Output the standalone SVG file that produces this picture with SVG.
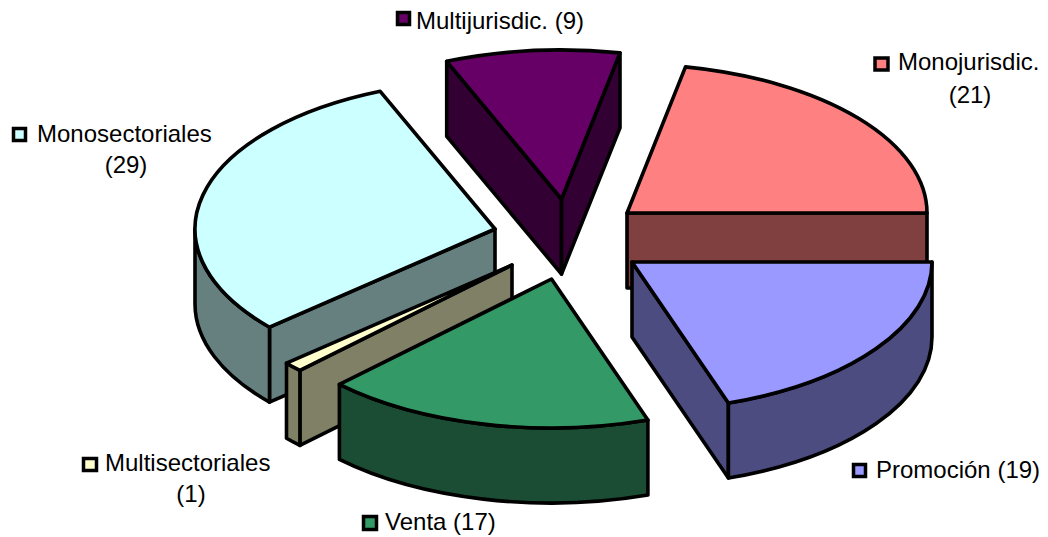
<svg xmlns="http://www.w3.org/2000/svg" width="1048" height="537" viewBox="0 0 1048 537">
<style>
.e{stroke:#000;stroke-width:3.6;stroke-linejoin:round}
.t{font-family:"Liberation Sans",Arial,sans-serif;font-size:24px;fill:#000}
.c{text-anchor:middle}
.k{stroke:#000;stroke-width:3.5}
</style>
<rect width="1048" height="537" fill="#fff"/>
<g id="slice-multijurisdic">
<path class="e" fill="#330033" d="M561.5 199 L446.7 61.3 L446.7 136.3 L561.5 274 Z"/>
<path class="e" fill="#330033" d="M561.5 199 L620 52.9 L620 127.9 L561.5 274 Z"/>
<path class="e" fill="#660066" d="M561.5 199 L446.7 61.3 A300 149 0 0 1 620 52.9 Z"/>
</g>
<g id="slice-monojurisdic">
<path class="e" fill="#804040" d="M627 213 L927 213 L927 288 L627 288 Z"/>
<path class="e" fill="#FF8080" d="M627 213 L685.5 66.9 A300 149 0 0 1 927 213 Z"/>
</g>
<g id="slice-monosectoriales">
<path class="e" fill="#668080" d="M495 229 L269.5 327.2 L269.5 402.2 L495 304 Z"/>
<path class="e" fill="#668080" d="M269.5 327.2 A300 149 0 0 1 195 229 L195 304 A300 149 0 0 0 269.5 402.2 Z"/>
<path class="e" fill="#CCFFFF" d="M495 229 L269.5 327.2 A300 149 0 0 1 380.2 91.3 Z"/>
</g>
<g id="slice-multisectoriales">
<path class="e" fill="#808066" d="M512 265 L299.9 370.4 L299.9 445.4 L512 340 Z"/>
<path class="e" fill="#808066" d="M299.9 370.4 A300 149 0 0 1 286.5 363.2 L286.5 438.2 A300 149 0 0 0 299.9 445.4 Z"/>
<path class="e" fill="#FFFFCC" d="M512 265 L299.9 370.4 A300 149 0 0 1 286.5 363.2 Z"/>
</g>
<g id="slice-venta">
<path class="e" fill="#1A4D33" d="M647.9 420.1 A300 149 0 0 1 339.4 384.4 L339.4 459.4 A300 149 0 0 0 647.9 495.1 Z"/>
<path class="e" fill="#339966" d="M551.5 279 L647.9 420.1 A300 149 0 0 1 339.4 384.4 Z"/>
</g>
<g id="slice-promocion">
<path class="e" fill="#4C4C80" d="M632 262 L728.4 403.1 L728.4 478.1 L632 337 Z"/>
<path class="e" fill="#4C4C80" d="M932 262 A300 149 0 0 1 728.4 403.1 L728.4 478.1 A300 149 0 0 0 932 337 Z"/>
<path class="e" fill="#9999FF" d="M632 262 L932 262 A300 149 0 0 1 728.4 403.1 Z"/>
</g>
<g id="connectors"></g>
<g id="legend-multijurisdic">
<rect class="k" x="397.5" y="12.5" width="12" height="12" fill="#660066"/>
<text class="t" x="416" y="29">Multijurisdic. (9)</text>
</g>
<g id="legend-monojurisdic">
<rect class="k" x="875" y="58" width="13" height="12" fill="#FF8080"/>
<text class="t" x="898" y="70">Monojurisdic.</text>
<text class="t c" x="970" y="103">(21)</text>
</g>
<g id="legend-monosectoriales">
<rect class="k" x="13.5" y="128.5" width="12" height="12" fill="#CCFFFF"/>
<text class="t" x="37" y="142">Monosectoriales</text>
<text class="t c" x="126" y="173">(29)</text>
</g>
<g id="legend-multisectoriales">
<rect class="k" x="83.5" y="458.5" width="13" height="12" fill="#FFFFCC"/>
<text class="t" x="105" y="471">Multisectoriales</text>
<text class="t c" x="191" y="502">(1)</text>
</g>
<g id="legend-venta">
<rect class="k" x="363.5" y="516.5" width="13" height="13" fill="#339966"/>
<text class="t" x="385" y="530">Venta (17)</text>
</g>
<g id="legend-promocion">
<rect class="k" x="853.5" y="464.5" width="12" height="12" fill="#9999FF"/>
<text class="t" x="876" y="478">Promoción (19)</text>
</g>
</svg>
